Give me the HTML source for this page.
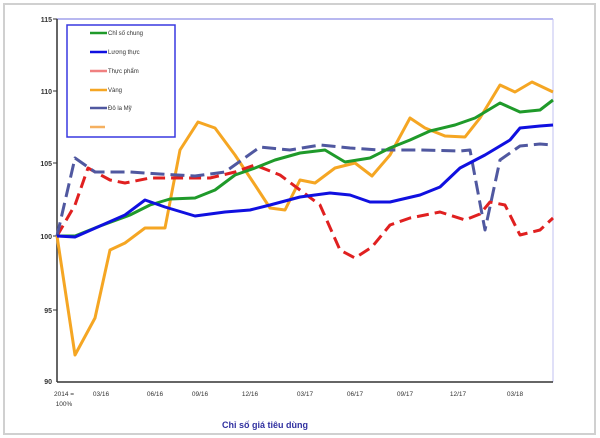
<!DOCTYPE html>
<html><head><meta charset="utf-8"><style>
body{margin:0;background:#fff;}
svg{display:block;font-family:"Liberation Sans",sans-serif;}
</style></head><body>
<svg width="600" height="438" viewBox="0 0 600 438">
<rect x="0" y="0" width="600" height="438" fill="#fff"/>
<rect x="4" y="4" width="591" height="430" fill="none" stroke="#d0d0d0" stroke-width="2"/>
<line x1="57" y1="19" x2="553" y2="19" stroke="#b8b8f0" stroke-width="2"/>
<line x1="553" y1="19" x2="553" y2="382" stroke="#c0c0f0" stroke-width="1"/>
<line x1="57" y1="19" x2="57" y2="382" stroke="#333" stroke-width="1.5"/>
<line x1="57" y1="382" x2="553" y2="382" stroke="#333" stroke-width="1.5"/>
<g fill="#333" font-size="7" font-weight="bold" text-anchor="end">
<text x="52" y="22">115</text><text x="52" y="94">110</text><text x="52" y="166">105</text>
<text x="52" y="239">100</text><text x="52" y="313">95</text><text x="52" y="384">90</text>
</g>
<g stroke="#333" stroke-width="1">
<line x1="53" y1="19" x2="57" y2="19"/><line x1="53" y1="91" x2="57" y2="91"/><line x1="53" y1="163" x2="57" y2="163"/><line x1="53" y1="236" x2="57" y2="236"/><line x1="53" y1="310" x2="57" y2="310"/>
</g>
<g stroke="#333" stroke-width="1" id="ticks"></g>
<g fill="#333" font-size="6.5" text-anchor="middle">
<text x="64" y="396">2014 =</text><text x="64" y="406">100%</text>
<text x="101" y="396">03/16</text><text x="155" y="396">06/16</text><text x="200" y="396">09/16</text>
<text x="250" y="396">12/16</text><text x="305" y="396">03/17</text><text x="355" y="396">06/17</text>
<text x="405" y="396">09/17</text><text x="458" y="396">12/17</text><text x="515" y="396">03/18</text>
</g>
<text x="265" y="428" font-size="9" font-weight="bold" fill="#3030a0" text-anchor="middle">Chỉ số giá tiêu dùng</text>
<g fill="none" stroke-width="3" stroke-linejoin="round">
<polyline stroke="#f5a623" points="57,236 75,355 95,318 110,250 125,243 145,228 165,228 180,150 198,122 215,128 235,155 255,185 270,208 285,210 300,180 315,183 335,168 355,163 372,176 390,155 410,118 425,128 445,136 465,137 480,118 500,85 515,92 532,82 553,92"/>
<polyline stroke="#e02020" stroke-dasharray="12,6" points="57,236 75,205 88,168 110,180 125,183 150,178 170,178 190,178 210,178 235,172 255,165 280,175 300,190 320,205 340,250 355,258 372,247 390,225 410,218 440,212 465,220 480,214 490,202 505,205 520,235 540,230 553,218"/>
<polyline stroke="#5058a0" stroke-dasharray="14,6" points="57,236 75,158 95,172 130,172 160,174 195,176 225,172 260,147 290,150 320,145 350,148 380,150 420,150 460,151 470,150 485,230 500,160 520,146 540,144 553,145"/>
<polyline stroke="#1f9a2a" points="57,236 75,236 100,226 130,215 150,205 170,199 195,198 215,190 235,175 255,168 275,160 300,153 325,150 345,162 370,158 390,148 410,140 430,131 455,125 475,118 500,103 520,112 540,110 553,100"/>
<polyline stroke="#1010e0" points="57,236 75,237 100,226 125,215 145,200 165,207 195,216 225,212 250,210 270,205 300,197 330,193 350,195 370,202 390,202 420,195 440,187 460,168 485,155 510,140 520,128 540,126 553,125"/>
</g>
<rect x="67" y="25" width="108" height="112" fill="#fff" stroke="#3838e0" stroke-width="1.5"/>
<g stroke-width="2.5">
<line x1="90" y1="33" x2="107" y2="33" stroke="#1f9a2a"/>
<line x1="90" y1="52" x2="107" y2="52" stroke="#1010e0"/>
<line x1="90" y1="71" x2="107" y2="71" stroke="#f08080"/>
<line x1="90" y1="90" x2="107" y2="90" stroke="#f5a623"/>
<line x1="90" y1="108" x2="107" y2="108" stroke="#5058a0"/>
<line x1="90" y1="127" x2="105" y2="127" stroke="#f5b060"/>
</g>
<g fill="#333" font-size="6">
<text x="108" y="35">Chỉ số chung</text><text x="108" y="54">Lương thực</text>
<text x="108" y="73">Thực phẩm</text><text x="108" y="92">Vàng</text><text x="108" y="110">Đô la Mỹ</text>
</g>
<script>
var g=document.getElementById('ticks'),s='';
for(var i=0;i<=33;i++){var x=57+i*15.03;s+='<line x1="'+x+'" y1="382" x2="'+x+'" y2="386"/>';}
g.innerHTML=s;
</script>
</svg>
</body></html>
